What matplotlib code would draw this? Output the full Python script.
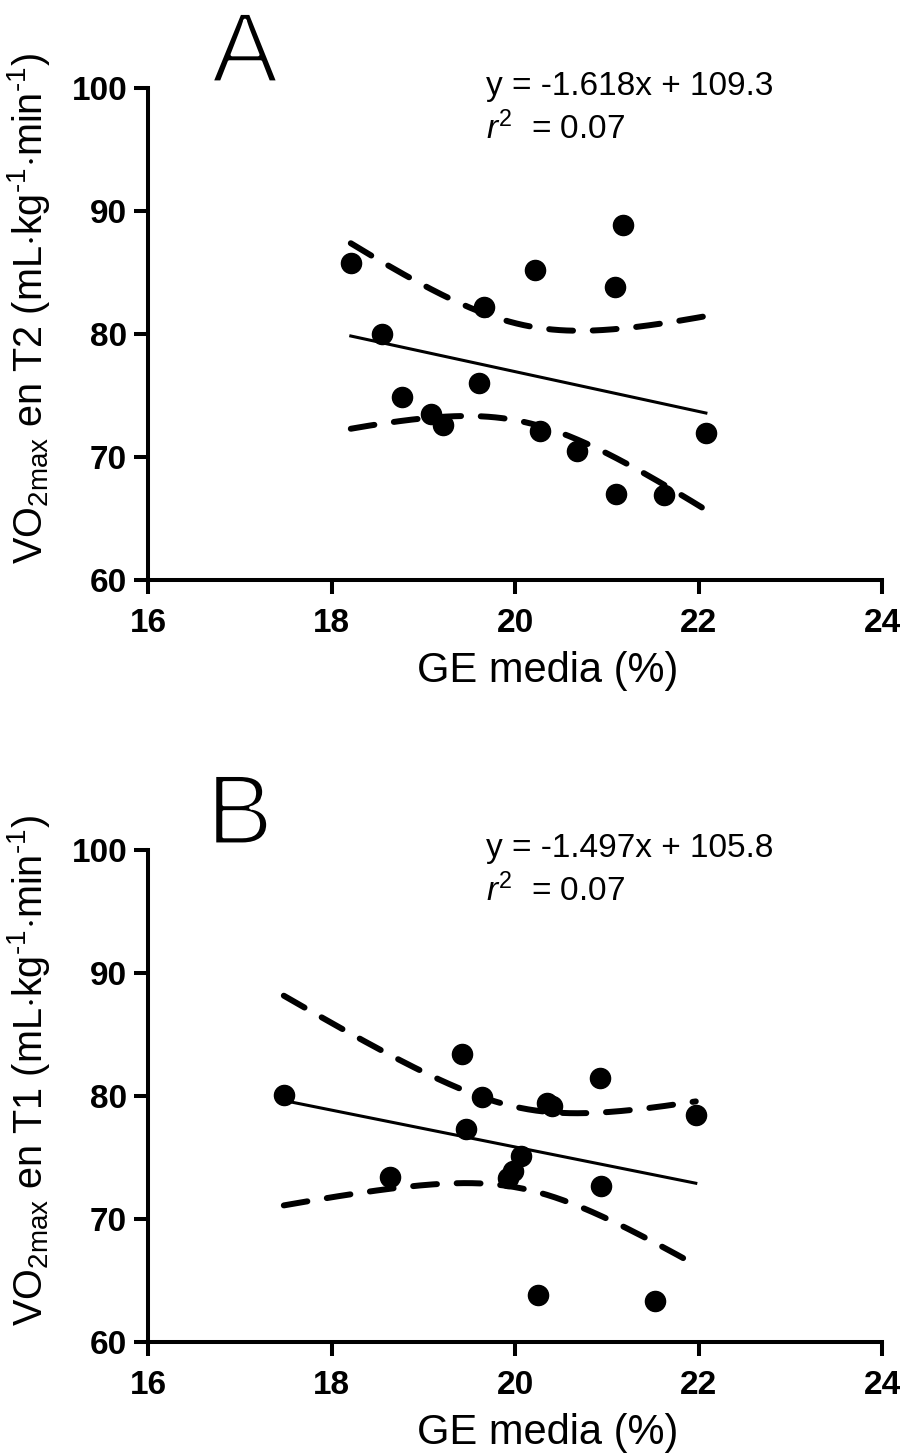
import numpy as np
import matplotlib
matplotlib.use("Agg")
import matplotlib.pyplot as plt
import matplotlib.patheffects as pe

plt.rcParams['font.family'] = ['Liberation Sans', 'DejaVu Sans']
plt.rcParams['mathtext.fontset'] = 'custom'
plt.rcParams['mathtext.rm'] = 'Liberation Sans'
plt.rcParams['mathtext.it'] = 'Liberation Sans:italic'

# Panel A: VO2max en T2 vs GE media
ge_a = [18.21, 18.55, 18.77, 19.08, 19.21, 19.61, 19.66, 20.22, 20.27,
        20.67, 21.09, 21.18, 21.10, 21.62, 22.08]
vo2_a = [85.8, 80.0, 74.9, 73.5, 72.6, 76.0, 82.2, 85.2, 72.1,
         70.5, 83.8, 88.9, 67.0, 66.9, 71.95]
slope_a, icpt_a, r2_a = -1.618, 109.3, 0.07

# Panel B: VO2max en T1 vs GE media
ge_b = [17.48, 18.64, 19.42, 19.47, 19.64, 20.07, 19.98, 19.92, 20.25,
        20.35, 20.40, 20.93, 20.94, 21.53, 21.97]
vo2_b = [80.07, 73.4, 83.4, 77.35, 79.96, 75.1, 73.9, 73.3, 63.86,
         79.4, 79.2, 81.43, 72.68, 63.3, 78.46]
slope_b, icpt_b, r2_b = -1.497, 105.8, 0.07

x_ticks = [16, 18, 20, 22, 24]
y_ticks = [60, 70, 80, 90, 100]

T_975 = {13: 2.160}


def draw_panel(ax, x, y, slope, icpt, r2, letter, letter_x, ylab):
    x = np.asarray(x)
    y = np.asarray(y)
    n = len(x)
    xs = np.linspace(x.min(), x.max(), 200)
    fit = slope * xs + icpt

    # 95% confidence band of the regression line
    resid = y - (slope * x + icpt)
    s = np.sqrt(np.sum(resid ** 2) / (n - 2))
    sxx = np.sum((x - x.mean()) ** 2)
    half = T_975.get(n - 2, 2.16) * s * np.sqrt(1.0 / n + (xs - x.mean()) ** 2 / sxx)

    ax.plot(x, y, 'o', color='black', markersize=14.5, zorder=3)
    ax.plot(xs, fit, '-', color='black', lw=2.2, zorder=2)
    for band in (fit + half, fit - half):
        ax.plot(xs, band, color='black', lw=4.3, dashes=(4, 3.3),
                dash_capstyle='round', zorder=2)

    ax.set_xlim(16, 24)
    ax.set_ylim(60, 100)
    ax.set_xticks(x_ticks)
    ax.set_yticks(y_ticks)
    for side in ('top', 'right'):
        ax.spines[side].set_visible(False)
    for side in ('left', 'bottom'):
        ax.spines[side].set_linewidth(2.9)
    ax.tick_params(width=2.9, length=10, labelsize=24)
    ax.tick_params(axis='x', pad=10)
    ax.tick_params(axis='y', pad=5)
    for lab in ax.get_xticklabels() + ax.get_yticklabels():
        lab.set_fontweight('bold')

    ax.set_xlabel('GE media (%)', fontsize=30, x=0.545, labelpad=9)
    ax.set_ylabel(ylab, fontsize=28.5, y=0.552, labelpad=14)

    # thin the big panel letter with a white outline
    ax.text(letter_x, 1.012, letter, transform=ax.transAxes, fontsize=72,
            ha='center', va='baseline',
            path_effects=[pe.Stroke(linewidth=2.4, foreground='white')])
    ax.text(0.46, 1.003, f'y = {slope}x + {icpt}', transform=ax.transAxes,
            fontsize=24, ha='left', va='center')
    ax.text(0.46, 0.917, r'$\mathit{r}^2$  = ' + f'{r2:.2f}', transform=ax.transAxes,
            fontsize=24, ha='left', va='center')


fig = plt.figure(figsize=(9.07, 14.54), dpi=100)
ax_a = fig.add_axes([0.1632, 0.6011, 0.8093, 0.3384])
ax_b = fig.add_axes([0.1632, 0.0770, 0.8093, 0.3384])

draw_panel(ax_a, ge_a, vo2_a, slope_a, icpt_a, r2_a, 'A', 0.132,
           r'VO$_{2\mathrm{max}}$ en T2 (mL$\cdot$kg$^{\text{-1}}$$\cdot$min$^{\text{-1}}$)')
draw_panel(ax_b, ge_b, vo2_b, slope_b, icpt_b, r2_b, 'B', 0.125,
           r'VO$_{2\mathrm{max}}$ en T1 (mL$\cdot$kg$^{\text{-1}}$$\cdot$min$^{\text{-1}}$)')

fig.savefig('out.png', dpi=100)
